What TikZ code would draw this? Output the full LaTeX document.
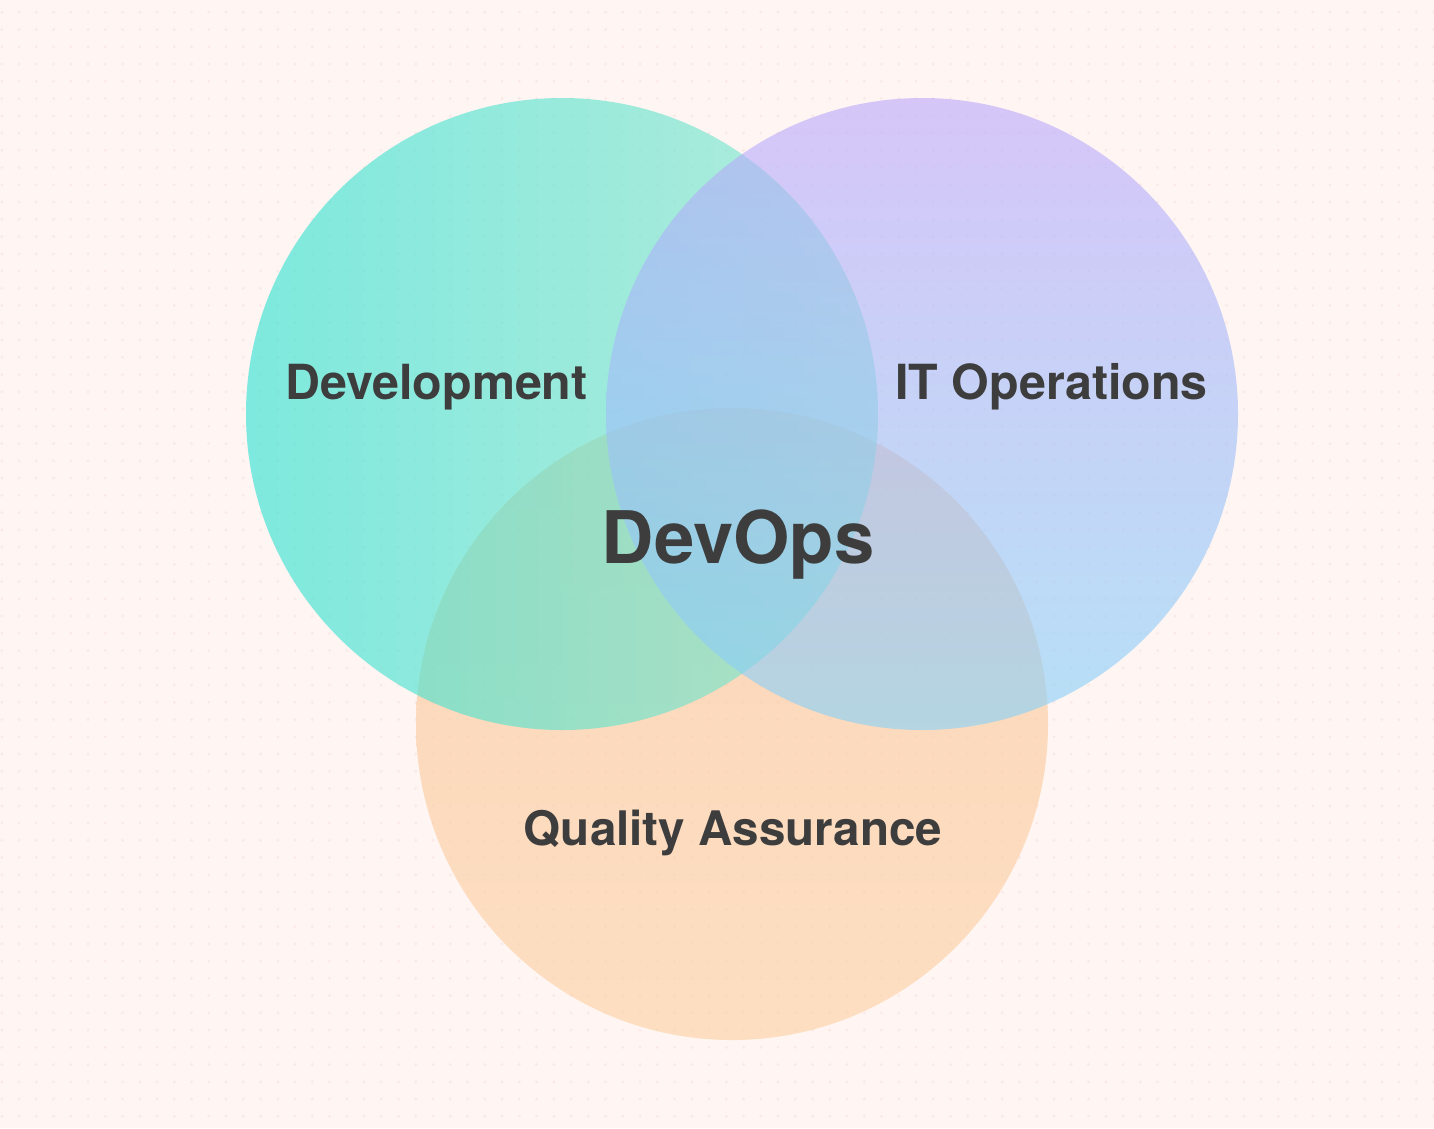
\documentclass[tikz,border=0pt]{standalone}
\usepackage{fontspec}
\setmainfont{TeX Gyre Heros}
\begin{document}
\definecolor{paper}{RGB}{255,245,242}
\definecolor{dotc}{RGB}{250,233,230}
\definecolor{ink}{RGB}{61,61,61}
\definecolor{devA}{RGB}{40,225,209}
\definecolor{devB}{RGB}{130,230,202}
\definecolor{opsA}{RGB}{187,167,252}
\definecolor{opsB}{RGB}{133,210,250}
\definecolor{qaA}{RGB}{250,192,148}
\definecolor{qaB}{RGB}{252,208,160}
\begin{tikzpicture}[x=1pt,y=-1pt,
  setcircle/.style={circle,inner sep=0pt,outer sep=0pt,minimum size=632pt,fill opacity=0.6},
  area/.style={font=\fontsize{48.4}{58}\selectfont\bfseries,text=ink,anchor=base,inner sep=0pt},
  core/.style={font=\fontsize{72.5}{86}\selectfont\bfseries,text=ink,anchor=base,inner sep=0pt}]
  % page and dotted grid
  \useasboundingbox (0,0) rectangle (1434,1128);
  \fill[paper] (0,0) rectangle (1434,1128);
  \foreach \i in {0,...,83}{
    \foreach \j in {0,...,65}{
      \fill[dotc] (1.8+17.25*\i,12.3+17.25*\j) circle[radius=1.6pt];
    }
  }
  % the three overlapping circles
  \node[setcircle,top color=qaA,bottom color=qaB] (qa) at (732,724) {};
  \node[setcircle,left color=devA,right color=devB] (dev) at (562,414) {};
  \node[setcircle,top color=opsA,bottom color=opsB] (ops) at (922,414) {};
  % labels
  \node[area] (devlabel) at (436.5,399) {Development};
  \node[area] (opslabel) at (1051.5,399) {IT Operations};
  \node[area,font=\fontsize{47.6}{57}\selectfont\bfseries] (qalabel) at (733,845) {Quality Assurance};
  \node[core] (devops) at (738,563) {DevOps};
\end{tikzpicture}
\end{document}
